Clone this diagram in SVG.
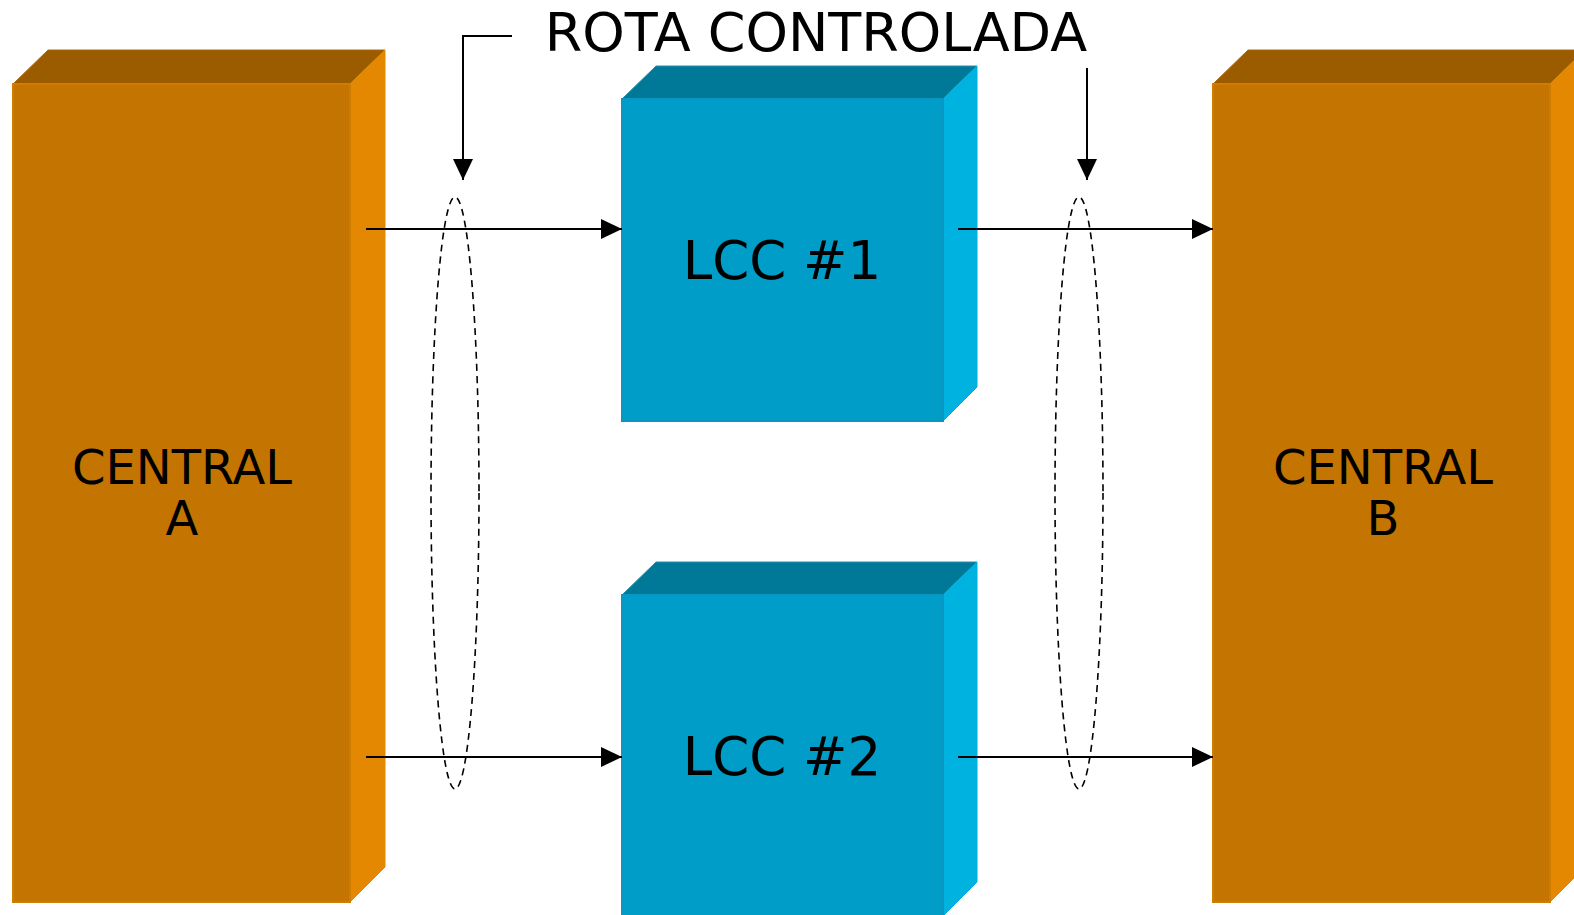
<svg xmlns="http://www.w3.org/2000/svg" width="1574" height="915" viewBox="0 0 1574 915">
<defs>
<style>
.of{fill:#C47400;stroke:#D07C00;stroke-width:2}
.ot{fill:#9B5C00;stroke:#B06A10;stroke-width:1}
.os{fill:#E38800;stroke:#E08A00;stroke-width:1}
.bf{fill:#009DC8;stroke:#0A96C0;stroke-width:2}
.bt{fill:#007898;stroke:#2090A8;stroke-width:1}
.bs{fill:#00B2E0;stroke:#00B0E0;stroke-width:1}
.lbl{font-family:"DejaVu Sans",Verdana,sans-serif;fill:#000;text-anchor:middle}
.ln{stroke:#000;stroke-width:2;fill:none}
.dash{stroke:#000;stroke-width:1.6;fill:none;stroke-dasharray:7,5}
</style>
<marker id="ah" viewBox="0 0 21 20" refX="21" refY="10" markerWidth="21" markerHeight="20" markerUnits="userSpaceOnUse" orient="auto">
<path d="M0,0 L21,10 L0,20 Z" fill="#000"/>
</marker>
</defs>
<rect width="1574" height="915" fill="#fff"/>
<g id="centralA">
<polygon class="ot" points="13,84 48,50 385,50 350,84"/>
<polygon class="os" points="350,84 385,50 385,867 350,902"/>
<rect class="of" x="13" y="84" width="337" height="818"/>
<text class="lbl" x="182" y="484" font-size="48">CENTRAL</text>
<text class="lbl" x="182" y="535" font-size="48">A</text>
</g>
<g id="centralB">
<polygon class="ot" points="1213,84 1248,50 1585,50 1550,84"/>
<polygon class="os" points="1550,84 1585,50 1585,867 1550,902"/>
<rect class="of" x="1213" y="84" width="337" height="818"/>
<text class="lbl" x="1383" y="484" font-size="48">CENTRAL</text>
<text class="lbl" x="1383" y="535" font-size="48">B</text>
</g>
<g id="lcc1">
<polygon class="bt" points="622,99 656,66 977,66 943,99"/>
<polygon class="bs" points="943,99 977,66 977,387 943,421"/>
<rect class="bf" x="622" y="99" width="321" height="322"/>
<text class="lbl" x="782" y="279" font-size="53">LCC #1</text>
</g>
<g id="lcc2">
<polygon class="bt" points="622,595 656,562 977,562 943,595"/>
<polygon class="bs" points="943,595 977,562 977,882 943,916"/>
<rect class="bf" x="622" y="595" width="321" height="322"/>
<text class="lbl" x="782" y="775" font-size="53">LCC #2</text>
</g>
<g id="title">
<text class="lbl" x="816" y="51" font-size="54">ROTA CONTROLADA</text>
</g>
<g id="connectors">
<line class="ln" x1="366" y1="229" x2="622" y2="229" marker-end="url(#ah)"/>
<line class="ln" x1="366" y1="757" x2="622" y2="757" marker-end="url(#ah)"/>
<line class="ln" x1="958" y1="229" x2="1213" y2="229" marker-end="url(#ah)"/>
<line class="ln" x1="958" y1="757" x2="1213" y2="757" marker-end="url(#ah)"/>
<ellipse class="dash" cx="455" cy="493" rx="24" ry="296"/>
<ellipse class="dash" cx="1079" cy="493" rx="24" ry="296"/>
<polyline class="ln" points="512,36 463,36 463,180" marker-end="url(#ah)"/>
<line class="ln" x1="1087" y1="68" x2="1087" y2="180" marker-end="url(#ah)"/>
</g>
</svg>
